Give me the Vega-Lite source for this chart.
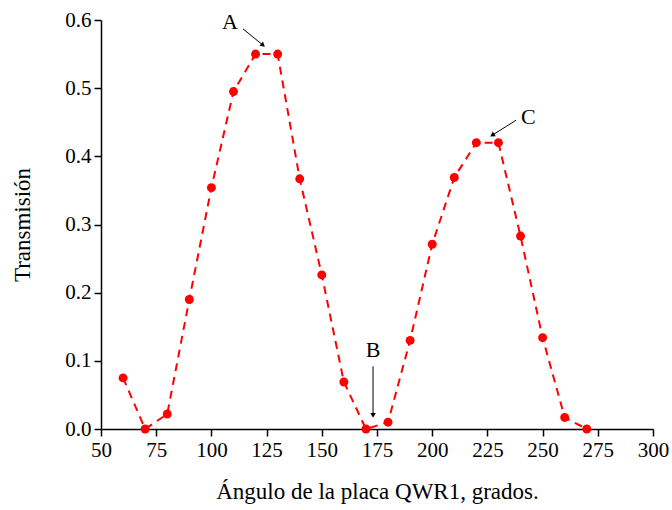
{
  "$schema": "https://vega.github.io/schema/vega-lite/v6.json",
  "width": 552,
  "height": 409,
  "autosize": "none",
  "padding": {"left": 101, "top": 20, "right": 19, "bottom": 81},
  "background": "white",
  "config": {
    "view": {"stroke": null},
    "font": "Liberation Serif",
    "axis": {
      "domainColor": "black",
      "domainWidth": 1.5,
      "tickColor": "black",
      "tickWidth": 1.5,
      "labelColor": "black",
      "titleColor": "black",
      "labelFont": "Liberation Serif",
      "titleFont": "Liberation Serif",
      "labelFontSize": 21,
      "titleFontSize": 23,
      "titleFontWeight": "normal",
      "grid": false,
      "labelOverlap": false,
      "labelFlush": false
    }
  },
  "datasets": {
    "series": [
      {"angle": 60, "t": 0.075},
      {"angle": 70, "t": 0.0},
      {"angle": 80, "t": 0.022},
      {"angle": 90, "t": 0.19},
      {"angle": 100, "t": 0.354},
      {"angle": 110, "t": 0.495},
      {"angle": 120, "t": 0.55},
      {"angle": 130, "t": 0.55},
      {"angle": 140, "t": 0.367},
      {"angle": 150, "t": 0.226},
      {"angle": 160, "t": 0.069},
      {"angle": 170, "t": 0.0},
      {"angle": 180, "t": 0.01},
      {"angle": 190, "t": 0.13},
      {"angle": 200, "t": 0.271},
      {"angle": 210, "t": 0.369},
      {"angle": 220, "t": 0.42},
      {"angle": 230, "t": 0.42},
      {"angle": 240, "t": 0.283},
      {"angle": 250, "t": 0.134},
      {"angle": 260, "t": 0.017},
      {"angle": 270, "t": 0.0}
    ],
    "labels": [
      {"label": "A", "x": 108.4, "y": 0.597},
      {"label": "B", "x": 173.2, "y": 0.116},
      {"label": "C", "x": 243.5, "y": 0.458}
    ],
    "arrows": [
      {"x": 114.3, "y": 0.587, "x2": 123.4, "y2": 0.563, "dir": 129},
      {"x": 173.2, "y": 0.092, "x2": 173.2, "y2": 0.02, "dir": 180},
      {"x": 238.0, "y": 0.453, "x2": 227.2, "y2": 0.431, "dir": 238}
    ]
  },
  "layer": [
    {
      "data": {"name": "series"},
      "mark": {"type": "line", "color": "#ff0000", "strokeWidth": 2, "strokeDash": [8, 6]},
      "encoding": {
        "x": {
          "field": "angle", "type": "quantitative",
          "scale": {"domain": [50, 300], "nice": false, "zero": false},
          "axis": {
            "title": "Ángulo de la placa QWR1, grados.",
            "values": [50, 62.5, 75, 87.5, 100, 112.5, 125, 137.5, 150, 162.5, 175, 187.5, 200, 212.5, 225, 237.5, 250, 262.5, 275, 287.5, 300],
            "labelExpr": "datum.value % 25 === 0 ? format(datum.value, 'd') : ''",
            "tickSize": {"condition": {"test": "datum.value % 25 === 0", "value": 7}, "value": 4},
            "labelPadding": 3,
            "titlePadding": 20
          }
        },
        "y": {
          "field": "t", "type": "quantitative",
          "scale": {"domain": [0, 0.6], "nice": false},
          "axis": {
            "title": "Transmisión",
            "values": [0, 0.05, 0.1, 0.15, 0.2, 0.25, 0.3, 0.35, 0.4, 0.45, 0.5, 0.55, 0.6],
            "labelExpr": "abs(datum.value * 10 - round(datum.value * 10)) < 0.001 ? format(datum.value, '.1f') : ''",
            "tickSize": {"condition": {"test": "abs(datum.value * 10 - round(datum.value * 10)) < 0.001", "value": 7}, "value": 4},
            "labelPadding": 3,
            "titlePadding": 30
          }
        }
      }
    },
    {
      "data": {"name": "series"},
      "mark": {"type": "point", "filled": true, "color": "#ff0000", "opacity": 1, "size": 80},
      "encoding": {
        "x": {"field": "angle", "type": "quantitative"},
        "y": {"field": "t", "type": "quantitative"}
      }
    },
    {
      "data": {"name": "arrows"},
      "mark": {"type": "rule", "color": "black", "strokeWidth": 1},
      "encoding": {
        "x": {"field": "x", "type": "quantitative"},
        "y": {"field": "y", "type": "quantitative"},
        "x2": {"field": "x2"},
        "y2": {"field": "y2"}
      }
    },
    {
      "data": {"name": "arrows"},
      "mark": {"type": "point", "shape": "triangle-up", "filled": true, "color": "black", "opacity": 1, "size": 30},
      "encoding": {
        "x": {"field": "x2", "type": "quantitative"},
        "y": {"field": "y2", "type": "quantitative"},
        "angle": {"field": "dir", "type": "quantitative", "scale": null}
      }
    },
    {
      "data": {"name": "labels"},
      "mark": {"type": "text", "font": "Liberation Serif", "fontSize": 22, "color": "black", "align": "center", "baseline": "middle"},
      "encoding": {
        "x": {"field": "x", "type": "quantitative"},
        "y": {"field": "y", "type": "quantitative"},
        "text": {"field": "label"}
      }
    }
  ]
}
